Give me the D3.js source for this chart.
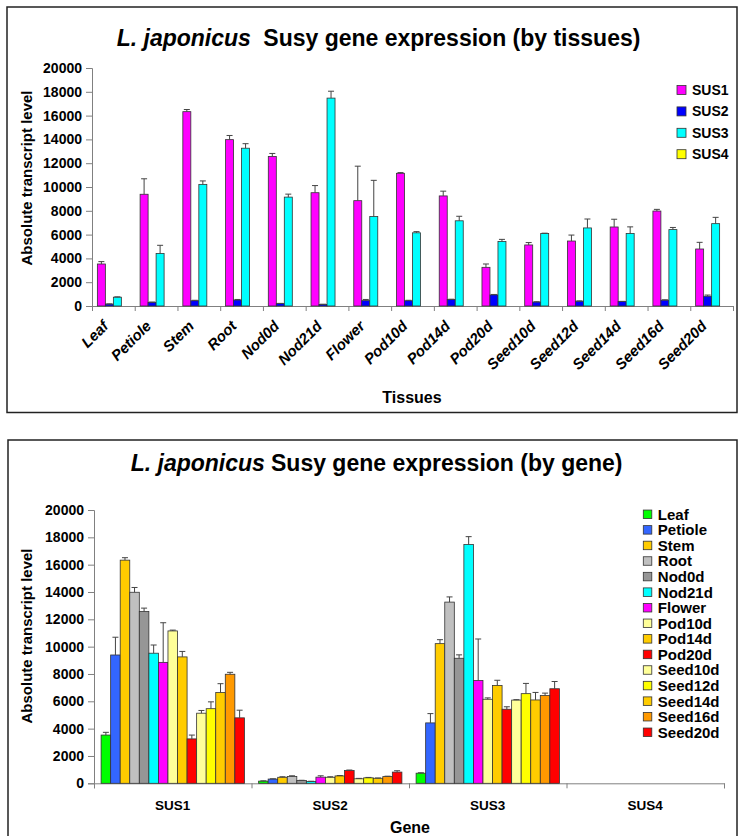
<!DOCTYPE html>
<html>
<head>
<meta charset="utf-8">
<title>L. japonicus Susy gene expression</title>
<script src="https://cdn.jsdelivr.net/npm/d3@7/dist/d3.min.js"></script>
<style>
  body { margin: 0; background: #fff; }
  svg text { font-family: "Liberation Sans", Arial, sans-serif; font-weight: bold; fill: #000; }
</style>
</head>
<body>
<svg id="chart" width="740" height="836"></svg>
<script>
// tissues and genes
var tissues = ['Leaf', 'Petiole', 'Stem', 'Root', 'Nod0d', 'Nod21d', 'Flower', 'Pod10d',
  'Pod14d', 'Pod20d', 'Seed10d', 'Seed12d', 'Seed14d', 'Seed16d', 'Seed20d'];
var genes = ['SUS1', 'SUS2', 'SUS3', 'SUS4'];

// absolute transcript level, one value per tissue
var sus1 = [3530, 9390, 16330, 13980, 12570, 9520, 8850, 11150, 9250, 3250, 5130, 5460, 6640, 7980, 4790];
var sus2 = [160, 310, 440, 500, 200, 130, 450, 440, 540, 930, 330, 400, 370, 490, 820];
var sus3 = [740, 4420, 10220, 13260, 9150, 17470, 7520, 6150, 7160, 5420, 6090, 6560, 6100, 6420, 6920];
var sus4 = [0, 0, 0, 0, 0, 0, 0, 0, 0, 0, 0, 0, 0, 0, 0];

// error (upper bar only)
var sus1Err = [200, 1300, 180, 350, 250, 600, 2900, 60, 400, 280, 200, 500, 650, 140, 560];
var sus2Err = [20, 20, 40, 50, 20, 20, 100, 40, 30, 40, 30, 30, 20, 30, 100];
var sus3Err = [30, 680, 290, 380, 250, 580, 3040, 100, 380, 180, 30, 750, 550, 180, 530];
var sus4Err = [0, 0, 0, 0, 0, 0, 0, 0, 0, 0, 0, 0, 0, 0, 0];

var yTicks = [0, 2000, 4000, 6000, 8000, 10000, 12000, 14000, 16000, 18000, 20000];

var geneColors = ['#ff00ff', '#0000ff', '#00ffff', '#ffff00'];
var tissueColors = ['#00ff00', '#3366ff', '#ffcc00', '#c0c0c0', '#969696', '#00ffff', '#ff00ff',
  '#ffff99', '#ffcc00', '#ff0000', '#ffff99', '#ffff00', '#ffcc00', '#ff9900', '#ff0000'];

var values = [sus1, sus2, sus3, sus4];
var errors = [sus1Err, sus2Err, sus3Err, sus4Err];

var svg = d3.select('#chart');

// frames
svg.append('rect').attr('x', 7).attr('y', 7).attr('width', 730).attr('height', 405.5)
  .attr('fill', 'none').attr('stroke', '#222').attr('stroke-width', 1.5);
svg.append('rect').attr('x', 8).attr('y', 440).attr('width', 729).attr('height', 420)
  .attr('fill', 'none').attr('stroke', '#222').attr('stroke-width', 1.5);

function title(x1, x2, y, tail) {
  var t = svg.append('text').attr('y', y).style('font-size', '23px');
  t.append('tspan').attr('x', x1).style('font-style', 'italic').text('L. japonicus');
  t.append('tspan').attr('x', x2).text(tail);
}

function yAxis(g, y, x0, cy, label) {
  g.append('g')
    .attr('transform', 'translate(' + x0 + ',0)')
    .call(d3.axisLeft(y).tickValues(yTicks).tickSize(6).tickPadding(4).tickFormat(d3.format('d')))
    .call(function(a) {
      a.selectAll('path, line').attr('stroke', '#808080');
      a.selectAll('text').style('font-size', '14px');
    });
  g.append('text')
    .attr('transform', 'translate(32,' + cy + ') rotate(-90)')
    .attr('text-anchor', 'middle')
    .style('font-size', '15px')
    .text(label);
}

function bars(g, cats, keys, x, x1, y, val, err, color) {
  var grp = g.selectAll('.grp').data(cats).enter().append('g')
    .attr('transform', function(c) { return 'translate(' + x(c) + ',0)'; });
  grp.selectAll('rect').data(function(c, ci) {
    return keys.map(function(k, ki) { return { k: k, ki: ki, v: val(ci, ki), e: err(ci, ki) }; });
  }).enter().append('rect')
    .attr('x', function(d) { return x1(d.k); })
    .attr('y', function(d) { return y(d.v); })
    .attr('width', x1.bandwidth())
    .attr('height', function(d) { return y(0) - y(d.v); })
    .attr('fill', function(d) { return color(d.ki); })
    .attr('stroke', '#333').attr('stroke-width', 0.8);
  // error bars
  var eb = grp.selectAll('.err').data(function(c, ci) {
    return keys.map(function(k, ki) { return { k: k, v: val(ci, ki), e: err(ci, ki) }; })
      .filter(function(d) { return d.e > 0; });
  }).enter().append('g').attr('class', 'err')
    .attr('stroke', '#444').attr('stroke-width', 1);
  eb.append('line')
    .attr('x1', function(d) { return x1(d.k) + x1.bandwidth() / 2; })
    .attr('x2', function(d) { return x1(d.k) + x1.bandwidth() / 2; })
    .attr('y1', function(d) { return y(d.v); })
    .attr('y2', function(d) { return y(d.v + d.e); });
  eb.append('line')
    .attr('x1', function(d) { return x1(d.k) + x1.bandwidth() / 2 - 3; })
    .attr('x2', function(d) { return x1(d.k) + x1.bandwidth() / 2 + 3; })
    .attr('y1', function(d) { return y(d.v + d.e); })
    .attr('y2', function(d) { return y(d.v + d.e); });
}

function xTicks(g, n, x0, x1, y0) {
  var xi = d3.scaleLinear().domain([0, n]).range([x0, x1]);
  g.append('g')
    .attr('transform', 'translate(0,' + y0 + ')')
    .call(d3.axisBottom(xi).tickValues(d3.range(n + 1)).tickSize(5).tickFormat(''))
    .call(function(a) { a.selectAll('path, line').attr('stroke', '#808080'); });
}

function legend(g, names, colors, x0, y0, step, size, fs) {
  var it = g.selectAll('.leg').data(names).enter().append('g')
    .attr('transform', function(d, i) { return 'translate(' + x0 + ',' + (y0 + i * step) + ')'; });
  it.append('rect').attr('x', 0).attr('y', -size / 2).attr('width', size).attr('height', size)
    .attr('fill', function(d, i) { return colors[i]; })
    .attr('stroke', '#333').attr('stroke-width', 0.8);
  it.append('text').attr('x', size + 6).attr('dy', '0.36em').style('font-size', fs + 'px')
    .text(function(d) { return d; });
}

// ---------- chart 1: by tissues ----------
title(116.7, 263.3, 46, 'Susy gene expression (by tissues)');
var g1 = svg.append('g');
var y1 = d3.scaleLinear().domain([0, 20000]).range([306, 68]);
var xa = d3.scaleBand().domain(tissues).range([92, 733]);
var xa1 = d3.scaleBand().domain(genes)
  .range([(xa.bandwidth() - 32) / 2, (xa.bandwidth() + 32) / 2]);

// axes under the bars
yAxis(g1, y1, 92, 178, 'Absolute transcript level');
xTicks(g1, tissues.length, 92, 733, 306);
bars(g1, tissues, genes, xa, xa1, y1,
  function(ci, ki) { return values[ki][ci]; },
  function(ci, ki) { return errors[ki][ci]; },
  function(ki) { return geneColors[ki]; });

g1.selectAll('.xl').data(tissues).enter().append('text')
  .attr('transform', function(d) { return 'translate(' + (xa(d) + xa.bandwidth() / 2 - 4) + ',327) rotate(-45)'; })
  .attr('text-anchor', 'end')
  .style('font-size', '15px')
  .style('font-style', 'italic')
  .text(function(d) { return d; });
g1.append('text').attr('x', 412).attr('y', 403).attr('text-anchor', 'middle')
  .style('font-size', '16px').text('Tissues');

legend(g1, genes, geneColors, 677, 90, 21.4, 9, 14);

// ---------- chart 2: by gene ----------
title(130.7, 271, 471, 'Susy gene expression (by gene)');
var g2 = svg.append('g');
var y2 = d3.scaleLinear().domain([0, 20000]).range([783.3, 510]);
var xb = d3.scaleBand().domain(genes).range([94, 724]);
var xb1 = d3.scaleBand().domain(tissues)
  .range([(xb.bandwidth() - 143.3) / 2, (xb.bandwidth() + 143.3) / 2]);

yAxis(g2, y2, 94, 636, 'Absolute transcript level');
xTicks(g2, genes.length, 94, 724, 783.3);
bars(g2, genes, tissues, xb, xb1, y2,
  function(ci, ki) { return values[ci][ki]; },
  function(ci, ki) { return errors[ci][ki]; },
  function(ki) { return tissueColors[ki]; });

g2.selectAll('.xl').data(genes).enter().append('text')
  .attr('x', function(d) { return xb(d) + xb.bandwidth() / 2; })
  .attr('y', 810)
  .attr('text-anchor', 'middle')
  .style('font-size', '13.5px')
  .text(function(d) { return d; });
g2.append('text').attr('x', 410).attr('y', 833).attr('text-anchor', 'middle')
  .style('font-size', '16px').text('Gene');

legend(g2, tissues, tissueColors, 643.3, 514.3, 15.57, 8.5, 15);
</script>
</body>
</html>
